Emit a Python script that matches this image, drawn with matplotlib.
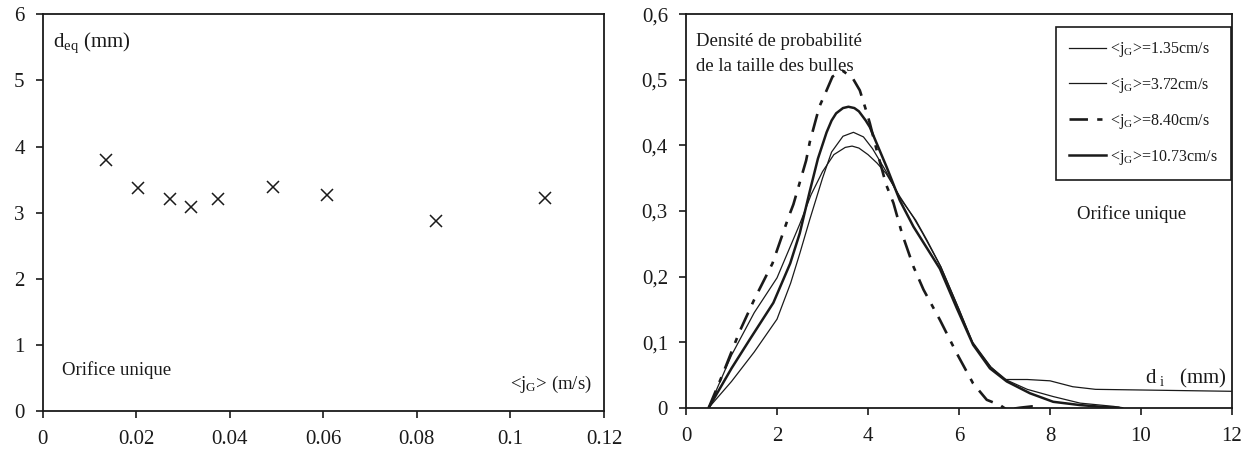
import matplotlib
matplotlib.use("Agg")
import matplotlib.pyplot as plt

plt.rcParams['font.family'] = ['Liberation Serif', 'DejaVu Serif']
plt.rcParams['mathtext.fontset'] = 'custom'
plt.rcParams['mathtext.rm'] = 'Liberation Serif'
plt.rcParams['mathtext.it'] = 'Liberation Serif:italic'

# ---------------- data: left panel ----------------
jg_ms = [0.0135, 0.0203, 0.0273, 0.0316, 0.0374, 0.0492, 0.0608, 0.0841, 0.1074]
deq_mm = [3.80, 3.38, 3.21, 3.08, 3.21, 3.39, 3.27, 2.88, 3.22]
left_xticks = [0, 0.02, 0.04, 0.06, 0.08, 0.1, 0.12]
left_xticklabels = ['0', '0.02', '0.04', '0.06', '0.08', '0.1', '0.12']
left_yticks = [0, 1, 2, 3, 4, 5, 6]

# ---------------- data: right panel ----------------
x_135 = [0.5, 1.0, 1.5, 2.0, 2.5, 2.75, 3.0, 3.25, 3.5, 3.65, 3.8, 4.0, 4.2, 4.4, 4.7,
         5.0, 5.2, 5.6, 6.0, 6.3, 6.7, 7.0, 7.5, 8.0, 8.5, 9.0, 10.0, 11.0, 12.0]
y_135 = [0.0, 0.08, 0.145, 0.198, 0.28, 0.325, 0.36, 0.386, 0.397, 0.399, 0.396, 0.386,
         0.373, 0.357, 0.322, 0.29, 0.266, 0.215, 0.15, 0.10, 0.062, 0.043, 0.043,
         0.041, 0.032, 0.028, 0.027, 0.026, 0.025]

x_372 = [0.5, 1.0, 1.5, 2.0, 2.3, 2.5, 2.72, 3.0, 3.2, 3.45, 3.68, 3.9, 4.1, 4.4, 4.7,
         5.05, 5.3, 5.6, 6.0, 6.3, 6.7, 7.05, 7.5, 8.07, 8.66, 9.4, 9.6]
y_372 = [0.0, 0.04, 0.085, 0.135, 0.19, 0.235, 0.287, 0.35, 0.39, 0.414, 0.42, 0.413,
         0.395, 0.36, 0.32, 0.286, 0.255, 0.215, 0.15, 0.098, 0.062, 0.042, 0.028,
         0.017, 0.007, 0.002, 0.0]

x_840 = [0.5, 0.8, 1.17, 1.5, 1.9, 2.25, 2.36, 2.64, 2.72, 2.93, 3.09, 3.22, 3.44, 3.66,
         3.82, 3.96, 4.04, 4.19, 4.4, 4.56, 4.75, 5.0, 5.22, 5.58, 5.95, 6.31, 6.61,
         6.9, 7.05, 7.34, 7.6, 7.8]
y_840 = [0.0, 0.05, 0.115, 0.165, 0.22, 0.29, 0.31, 0.377, 0.405, 0.459, 0.484, 0.505,
         0.514, 0.503, 0.484, 0.453, 0.434, 0.393, 0.34, 0.312, 0.265, 0.215, 0.18,
         0.134, 0.083, 0.037, 0.012, 0.004, -0.003, 0.0, 0.002, 0.002]

x_1073 = [0.5, 1.0, 1.41, 1.92, 2.29, 2.5, 2.72, 2.9, 3.09, 3.2, 3.3, 3.45, 3.57, 3.7,
          3.8, 3.95, 4.04, 4.41, 4.7, 5.0, 5.58, 5.95, 6.31, 6.68, 7.05, 7.56, 8.07,
          8.66, 9.2, 9.5]
y_1073 = [0.0, 0.06, 0.105, 0.16, 0.22, 0.266, 0.33, 0.38, 0.42, 0.438, 0.449, 0.457,
          0.459, 0.457, 0.452, 0.438, 0.428, 0.367, 0.316, 0.276, 0.212, 0.152, 0.096,
          0.06, 0.04, 0.022, 0.009, 0.004, 0.001, 0.0]

series_labels = [r'<j$_\mathrm{G}$>=1.35cm/s', r'<j$_\mathrm{G}$>=3.72cm/s',
                 r'<j$_\mathrm{G}$>=8.40cm/s', r'<j$_\mathrm{G}$>=10.73cm/s']
right_xticks = [0, 2, 4, 6, 8, 10, 12]
right_yticks = [0, 0.1, 0.2, 0.3, 0.4, 0.5, 0.6]
right_yticklabels = ['0', '0,1', '0,2', '0,3', '0,4', '0,5', '0,6']

# ---------------- figure ----------------
W, H = 1254, 451
fig = plt.figure(figsize=(W / 100, H / 100), dpi=100)

def ax_rect(x0, x1, ytop, ybot):
    return [x0 / W, 1 - ybot / H, (x1 - x0) / W, (ybot - ytop) / H]

INK = '#1a1a1a'
axL = fig.add_axes(ax_rect(42.7, 604, 14.3, 411))
axR = fig.add_axes(ax_rect(686, 1232, 14.3, 407.7))

for ax in (axL, axR):
    for s in ax.spines.values():
        s.set_linewidth(1.3)
        s.set_color(INK)
    ax.tick_params(direction='out', length=5, width=1.2, colors=INK,
                   labelsize=15, top=False, right=False)
    ax.tick_params(axis='x', pad=9)
    ax.tick_params(axis='y', pad=8)

# left panel
axL.plot(jg_ms, deq_mm, linestyle='none', marker='x', markersize=9,
         markeredgewidth=1.1, color=INK)
axL.set_xlim(0, 0.12)
axL.set_ylim(0, 6)
axL.set_xticks(left_xticks)
axL.set_xticklabels(left_xticklabels)
axL.set_yticks(left_yticks)
axL.text(0.019, 0.928, r'd$_\mathrm{eq}$ (mm)', transform=axL.transAxes,
         fontsize=15, color=INK, va='center', ha='left')
axL.text(0.034, 0.102, 'Orifice unique', transform=axL.transAxes,
         fontsize=13.5, color=INK, va='center', ha='left')
axL.text(0.979, 0.068, r'<j$_\mathrm{G}$> (m/s)', transform=axL.transAxes,
         fontsize=13.5, color=INK, va='center', ha='right')

# right panel
axR.plot(x_135, y_135, color=INK, linewidth=0.9, label=series_labels[0])
axR.plot(x_372, y_372, color=INK, linewidth=0.9, label=series_labels[1])
axR.plot(x_840, y_840, color=INK, linewidth=1.9, linestyle=(0, (7, 3.5, 2, 3.5)),
         label=series_labels[2])
axR.plot(x_1073, y_1073, color=INK, linewidth=1.8, label=series_labels[3])
axR.set_xlim(0, 12)
axR.set_ylim(0, 0.6)
axR.set_xticks(right_xticks)
axR.set_yticks(right_yticks)
axR.set_yticklabels(right_yticklabels)

axR.text(0.018, 0.93, 'Densité de probabilité', transform=axR.transAxes,
         fontsize=13.5, color=INK, va='center', ha='left')
axR.text(0.018, 0.867, 'de la taille des bulles', transform=axR.transAxes,
         fontsize=13.5, color=INK, va='center', ha='left')
axR.text(0.716, 0.492, 'Orifice unique', transform=axR.transAxes,
         fontsize=13.5, color=INK, va='center', ha='left')
axR.text(0.99, 0.075, r'd$_\mathrm{\ i}$   (mm)', transform=axR.transAxes,
         fontsize=15, color=INK, va='center', ha='right')

leg = axR.legend(loc='upper right', bbox_to_anchor=(0.9985, 0.9684),
                 fontsize=11.5, frameon=True, fancybox=False, edgecolor=INK,
                 handlelength=2.3, handletextpad=0.25, labelspacing=1.05,
                 borderpad=0.85, borderaxespad=0.0, framealpha=1)
leg.get_frame().set_linewidth(1.2)
for t in leg.get_texts():
    t.set_color(INK)

fig.savefig('out.png', dpi=100, facecolor='white')
